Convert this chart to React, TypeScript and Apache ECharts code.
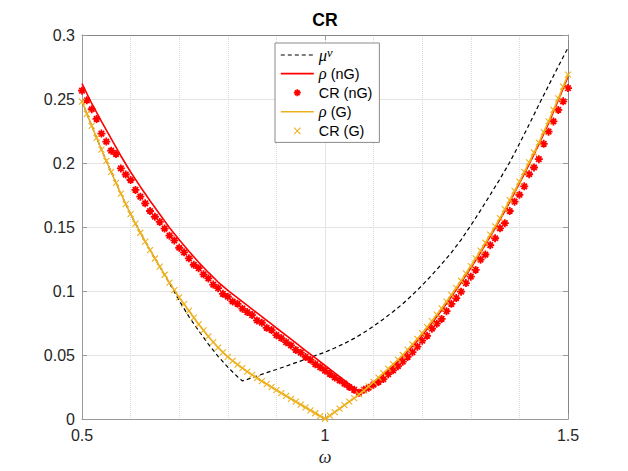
import React, { useEffect, useRef } from "react";
import * as echarts from "echarts";

// ---------- data ----------
const X_MIN = 0.5;
const X_MAX = 1.5;
const X_STEP = 0.5;
const Y_MIN = 0;
const Y_MAX = 0.3;
const Y_STEP = 0.05;

// mu^nu (dashed black)
const MU_OMEGA = [
  0.5, 0.52, 0.54, 0.56, 0.58, 0.6, 0.62, 0.64, 0.66, 0.68, 0.7, 0.72, 0.74, 0.76, 0.78, 0.8, 0.82,
  0.83, 0.84,
  0.86, 0.88, 0.9, 0.92, 0.94, 0.96, 0.98, 1.0, 1.02, 1.04, 1.06, 1.08, 1.1, 1.12, 1.14, 1.16, 1.18,
  1.2, 1.22, 1.24, 1.26, 1.28, 1.3, 1.32, 1.34, 1.36, 1.38, 1.4, 1.42, 1.44, 1.46, 1.48, 1.5,
];
const MU_VALUES = [
  0.248, 0.229, 0.2105, 0.193, 0.176, 0.16, 0.1455, 0.132, 0.119, 0.106, 0.0925, 0.08, 0.069, 0.0585,
  0.049, 0.0405, 0.033,
  0.0298, 0.031,
  0.0336, 0.0362, 0.0387, 0.0413, 0.044, 0.0467, 0.0495, 0.0522, 0.0555, 0.059, 0.063, 0.0675, 0.0725,
  0.078, 0.0838, 0.09, 0.097, 0.1045, 0.1125, 0.121, 0.13, 0.14, 0.1512, 0.163, 0.1752, 0.1875, 0.2005,
  0.215, 0.23, 0.2455, 0.2605, 0.2755, 0.29,
];

// rho (nG) (red line)
const RHO_NG_OMEGA = [
  0.5, 0.52, 0.54, 0.56, 0.58, 0.6, 0.62, 0.64, 0.66, 0.68, 0.7, 0.72, 0.74, 0.76, 0.78, 0.8, 0.82, 0.84,
  0.86, 0.88, 0.9, 0.92, 0.94, 0.96, 0.98, 1.0, 1.02, 1.04, 1.06,
  1.07,
  1.08, 1.1, 1.12, 1.14, 1.16, 1.18, 1.2, 1.22, 1.24, 1.26, 1.28, 1.3, 1.32, 1.34, 1.36, 1.38, 1.4, 1.42,
  1.44, 1.46, 1.48, 1.5,
];
const RHO_NG_VALUES = [
  0.262, 0.2465, 0.2325, 0.219, 0.2055, 0.193, 0.1815, 0.1705, 0.16, 0.1495, 0.14, 0.131, 0.1225, 0.1145,
  0.107, 0.1005, 0.0946, 0.0887, 0.0829, 0.077, 0.0711, 0.0653, 0.0594, 0.0535, 0.0477, 0.0418, 0.036,
  0.0301, 0.0242,
  0.0213,
  0.0236, 0.0285, 0.0345, 0.0413, 0.0487, 0.0568, 0.0655, 0.075, 0.085, 0.0955, 0.1065, 0.118, 0.13,
  0.1425, 0.1555, 0.1695, 0.184, 0.199, 0.2145, 0.231, 0.249, 0.2675,
];

// rho (G) (yellow line)
const RHO_G_OMEGA = [
  0.5, 0.52, 0.54, 0.56, 0.58, 0.6, 0.62, 0.64, 0.66, 0.68, 0.7, 0.72, 0.74, 0.76, 0.78, 0.8, 0.82, 0.84,
  0.86, 0.88, 0.9, 0.92, 0.94, 0.96, 0.98, 1.0,
  1.02, 1.04, 1.06, 1.08, 1.1, 1.12, 1.14, 1.16, 1.18, 1.2, 1.22, 1.24, 1.26, 1.28, 1.3, 1.32, 1.34, 1.36,
  1.38, 1.4, 1.42, 1.44, 1.46, 1.48, 1.5,
];
const RHO_G_VALUES = [
  0.248, 0.229, 0.2105, 0.193, 0.176, 0.16, 0.1455, 0.132, 0.119, 0.1065, 0.095, 0.0845, 0.074, 0.0645,
  0.0558, 0.0485, 0.0425, 0.037, 0.032, 0.0272, 0.0226, 0.018, 0.0135, 0.009, 0.0045, 0.0,
  0.0054, 0.0108, 0.0163, 0.0222, 0.029, 0.0358, 0.0428, 0.05, 0.0583, 0.067, 0.0765, 0.0865, 0.097,
  0.108, 0.1195, 0.1315, 0.144, 0.157, 0.171, 0.1855, 0.2005, 0.216, 0.2325, 0.2505, 0.269,
];

// markers are sampled every 0.01 from omega = 0.50 to 1.50
const MARKER_START_PCT = 50;
// CR (nG) (red asterisks)
const CR_NG_VALUES = [
  0.2565, 0.249, 0.242, 0.2344, 0.223, 0.2167, 0.2096, 0.207, 0.1958, 0.191, 0.1867, 0.179, 0.1737,
  0.1685, 0.1625, 0.158,
  0.154, 0.1488, 0.1432, 0.1395, 0.1338, 0.1302, 0.1255, 0.1205, 0.1178, 0.113, 0.1098, 0.105, 0.1022,
  0.0978, 0.0955, 0.0918, 0.09, 0.0862, 0.0835, 0.0812, 0.077, 0.0752, 0.0712, 0.0695, 0.0655, 0.0632,
  0.06, 0.0575, 0.054, 0.0518, 0.0485, 0.0462, 0.0428, 0.0405, 0.0378, 0.0352, 0.0325, 0.0302, 0.0276,
  0.025, 0.0228, 0.0206,
  0.0228, 0.0245, 0.0268, 0.029, 0.0312, 0.035, 0.038, 0.0412, 0.0448, 0.0485, 0.0522, 0.0565, 0.0612,
  0.065, 0.0705, 0.0745, 0.0782, 0.0842, 0.09, 0.0945, 0.0995, 0.1062, 0.1112, 0.1165, 0.1245, 0.1285,
  0.1358, 0.1412, 0.149, 0.153, 0.1625, 0.1698, 0.1752, 0.1818, 0.1912, 0.1965, 0.203, 0.215, 0.2245,
  0.2325, 0.2415, 0.2482, 0.2585,
];
// CR (G) (yellow crosses)
const CR_G_VALUES = [
  0.248, 0.2383, 0.229, 0.2196, 0.2105, 0.2016, 0.193, 0.1844, 0.176, 0.1679, 0.16, 0.1526, 0.1455,
  0.1386, 0.132, 0.1254, 0.119, 0.1127, 0.1065, 0.1006, 0.095, 0.0897, 0.0845, 0.0792, 0.074, 0.0692,
  0.0645, 0.06, 0.0558, 0.052, 0.0485, 0.0454, 0.0425, 0.0397, 0.037, 0.0345, 0.032, 0.0296, 0.0272,
  0.0249, 0.0226, 0.0203, 0.018, 0.0157, 0.0135, 0.0112, 0.009, 0.0067, 0.0045, 0.0022, 0.0002,
  0.0027, 0.0054, 0.0081, 0.0108, 0.0135, 0.0163, 0.0192, 0.0222, 0.0255, 0.029, 0.0324, 0.0358,
  0.0393, 0.0428, 0.0464, 0.05, 0.0542, 0.0583, 0.0626, 0.067, 0.0717, 0.0765, 0.0815, 0.0865, 0.0917,
  0.097, 0.1025, 0.108, 0.1137, 0.1195, 0.1255, 0.1315, 0.1377, 0.144, 0.1505, 0.157, 0.164, 0.171,
  0.1782, 0.1855, 0.193, 0.2005, 0.2082, 0.216, 0.2242, 0.2325, 0.2415, 0.2505, 0.2597, 0.269,
];

const SERIES_NAMES = ["μ^ν", "ρ (nG)", "CR (nG)", "ρ (G)", "CR (G)"];
const LEGEND_RICH_LABELS = [
  "{g|μ}{sup|ν}",
  "{g|ρ} (nG)",
  "CR (nG)",
  "{g|ρ} (G)",
  "CR (G)",
];
const TITLE = "CR";
const X_NAME = "ω";

// ---------- styling ----------
const SANS = "'Liberation Sans', Arial, Helvetica, sans-serif";
const SERIF = "'Liberation Serif', 'DejaVu Serif', serif";
const RED = "#ff0000";
const YELLOW = "#edb120";
const AXIS = "#9a9a9a";
const GRID = "#e4e4e4";
const MINOR = "#d9d9d9";
const TEXT = "#262626";

const ASTERISK = "path://M0,5L10,5M5,0L5,10M1.6,1.6L8.4,8.4M8.4,1.6L1.6,8.4";
const ASTERISK_LEGEND = "path://M-5,-5M15,15M0,5L10,5M5,0L5,10M1.6,1.6L8.4,8.4M8.4,1.6L1.6,8.4";
const CROSS = "path://M0,0L10,10M10,0L0,10";
const CROSS_LEGEND = "path://M-6,-6M16,16M0,0L10,10M10,0L0,10";

const zip = (xs: number[], ys: number[]) => xs.map((x, i) => [x, ys[i]]);
const markerPairs = (ys: number[]) => ys.map((y, i) => [(MARKER_START_PCT + i) / 100, y]);
const tickFmt = (v: number) => String(Math.round(v * 100) / 100);

function buildOption(): any {
  const axisLine = { show: true, onZero: false, lineStyle: { color: AXIS, width: 1 } };
  const axisTick = { show: true, inside: true, length: 5, lineStyle: { color: AXIS, width: 1 } };
  const legendMap: Record<string, string> = {};
  SERIES_NAMES.forEach((n, i) => (legendMap[n] = LEGEND_RICH_LABELS[i]));

  return {
    animation: false,
    backgroundColor: "#ffffff",
    textStyle: { fontFamily: SANS },
    title: {
      text: TITLE,
      left: 325,
      top: 11,
      textAlign: "center",
      padding: 0,
      textStyle: { fontSize: 17.6, fontWeight: "bold", color: "#000", fontFamily: SANS },
    },
    grid: { left: 82, right: 60, top: 35, bottom: 52, containLabel: false },
    legend: {
      orient: "vertical",
      left: 275,
      top: 43,
      padding: [3, 7, 2, 5],
      itemWidth: 33,
      itemHeight: 14,
      itemGap: 0.6,
      backgroundColor: "#fff",
      borderColor: "#8a8a8a",
      borderWidth: 1,
      borderRadius: 0,
      selectedMode: false,
      lineStyle: { width: "inherit" },
      itemStyle: { borderWidth: "inherit" },
      textStyle: {
        fontSize: 14.4,
        color: "#000",
        fontFamily: SANS,
        lineHeight: 18,
        rich: {
          g: { fontFamily: SERIF, fontStyle: "italic", fontSize: 16.5, lineHeight: 18, color: "#000" },
          sup: { fontFamily: SERIF, fontStyle: "italic", fontSize: 12.5, lineHeight: 6, verticalAlign: "top", color: "#000" },
        },
      },
      formatter: (name: string) => legendMap[name] ?? name,
      data: [
        { name: SERIES_NAMES[0], itemStyle: { opacity: 0 } },
        { name: SERIES_NAMES[1], itemStyle: { opacity: 0 } },
        { name: SERIES_NAMES[2], icon: ASTERISK_LEGEND },
        { name: SERIES_NAMES[3], itemStyle: { opacity: 0 } },
        { name: SERIES_NAMES[4], icon: CROSS_LEGEND },
      ],
    },
    xAxis: [
      {
        type: "value",
        position: "bottom",
        min: X_MIN,
        max: X_MAX,
        interval: X_STEP,
        name: X_NAME,
        nameLocation: "middle",
        nameGap: 27,
        nameTextStyle: { fontFamily: SERIF, fontStyle: "italic", fontSize: 18, color: TEXT },
        axisLine,
        axisTick,
        axisLabel: { fontSize: 16, color: TEXT, margin: 8, formatter: tickFmt, fontFamily: SANS },
        splitLine: { show: true, lineStyle: { color: GRID, width: 1 } },
        minorTick: { show: false, splitNumber: 5 },
        minorSplitLine: { show: true, lineStyle: { color: MINOR, width: 1, type: "dotted" } },
      },
      {
        type: "value",
        position: "top",
        min: X_MIN,
        max: X_MAX,
        interval: X_STEP,
        axisLine: { ...axisLine, lineStyle: { color: "#858585", width: 1 } },
        axisTick,
        axisLabel: { show: false },
        splitLine: { show: false },
      },
    ],
    yAxis: [
      {
        type: "value",
        position: "left",
        min: Y_MIN,
        max: Y_MAX,
        interval: Y_STEP,
        axisLine,
        axisTick,
        axisLabel: { fontSize: 16, color: TEXT, margin: 7, formatter: tickFmt, fontFamily: SANS },
        splitLine: { show: true, lineStyle: { color: GRID, width: 1 } },
      },
      {
        type: "value",
        position: "right",
        min: Y_MIN,
        max: Y_MAX,
        interval: Y_STEP,
        axisLine: { ...axisLine, lineStyle: { color: "#858585", width: 1 } },
        axisTick,
        axisLabel: { show: false },
        splitLine: { show: false },
      },
    ],
    series: [
      {
        name: SERIES_NAMES[0],
        type: "line",
        data: zip(MU_OMEGA, MU_VALUES),
        symbol: "none",
        lineStyle: { color: "#000", width: 1.2, type: [4, 3] },
        itemStyle: { color: "#000" },
        z: 2,
      },
      {
        name: SERIES_NAMES[1],
        type: "line",
        data: zip(RHO_NG_OMEGA, RHO_NG_VALUES),
        symbol: "none",
        lineStyle: { color: RED, width: 1.6 },
        itemStyle: { color: RED },
        z: 3,
      },
      {
        name: SERIES_NAMES[2],
        type: "scatter",
        data: markerPairs(CR_NG_VALUES),
        symbol: ASTERISK,
        symbolSize: 8,
        itemStyle: { color: "none", borderColor: RED, borderWidth: 1.8, opacity: 1 },
        z: 4,
      },
      {
        name: SERIES_NAMES[3],
        type: "line",
        data: zip(RHO_G_OMEGA, RHO_G_VALUES),
        symbol: "none",
        lineStyle: { color: YELLOW, width: 1.6 },
        itemStyle: { color: YELLOW },
        z: 5,
      },
      {
        name: SERIES_NAMES[4],
        type: "scatter",
        data: markerPairs(CR_G_VALUES),
        symbol: CROSS,
        symbolSize: 6,
        itemStyle: { color: "none", borderColor: YELLOW, borderWidth: 1.1, opacity: 1 },
        z: 6,
      },
    ],
  };
}

export default function App() {
  const ref = useRef<HTMLDivElement>(null);
  useEffect(() => {
    if (!ref.current) return;
    const chart = echarts.init(ref.current, null, { renderer: "svg" });
    chart.setOption(buildOption());
    return () => chart.dispose();
  }, []);
  return (
    <div
      ref={ref}
      style={{ position: "fixed", left: 0, top: 0, width: 628, height: 471, background: "#fff" }}
    />
  );
}
